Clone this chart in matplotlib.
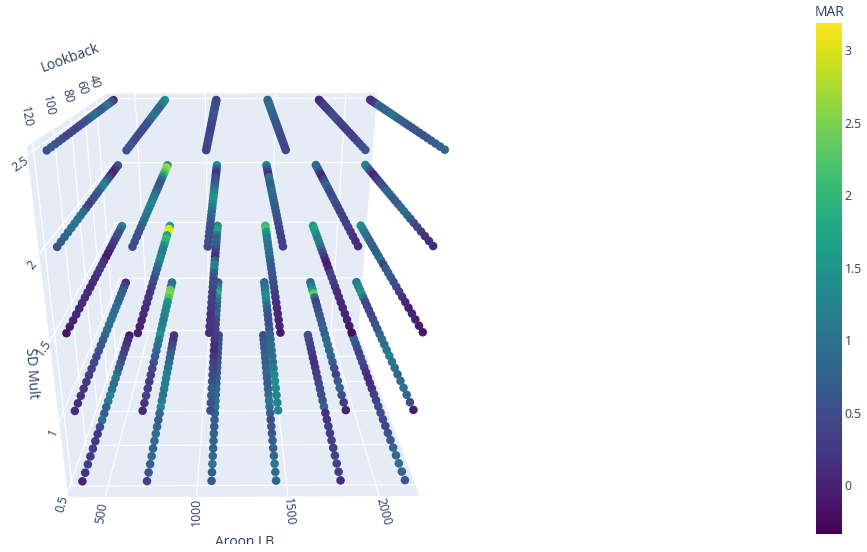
import numpy as np
import matplotlib
matplotlib.use("Agg")
import matplotlib.pyplot as plt
from matplotlib.colors import Normalize
from matplotlib.patches import Polygon, Rectangle

plt.rcParams['font.family'] = ['Open Sans', 'DejaVu Sans']

# axis values
aroon_lb = [360, 720, 1080, 1440, 1800, 2160]
sd_mult = [2.5, 2.0, 1.5, 1.0, 0.5]
lookback = [120, 116, 112, 108, 104, 100, 96, 92, 88, 84, 80, 76, 72,
            68, 64, 60, 56, 52, 48, 44, 40, 36, 32, 28, 24]

# MAR per aroon column, read front (lookback 120) to back (lookback 24)
mar_sd_25 = [
    [.6, .7, .6, .5, .45, .4, .4, .4, .45, .45, .5, .55, .6, .9, 1.0, .85, .7, .65, .7, 1.0, 1.1, .8, .6, .4, .05],
    [.6, .6, .55, .5, .45, .45, .5, .5, .55, .6, .6, .75, .9, 1.05, 1.1, .95, .8, .8, .8, .9, 1.1, 1.2, 1.3, 1.35, 1.45],
    [.35, .4, .4, .4, .4, .4, .35, .35, .4, .4, .45, .5, .55, .5, .55, .6, .6, .55, .5, .5, .45, .45, .4, .35, .3],
    [.4, .4, .4, .45, .45, .45, .5, .5, .5, .55, .6, .65, .7, .75, .8, .8, .85, .9, .9, .95, .9, .85, .8, .8, .75],
    [.55, .5, .45, .4, .35, .3, .3, .3, .3, .3, .35, .4, .5, .55, .5, .4, .35, .3, .3, .35, .35, .1, .1, .05, .05],
    [.85, .75, .7, .65, .6, .55, .55, .6, .6, .65, .7, .75, .8, .9, 1.05, .95, .85, .8, .75, .7, .95, .35, .2, .15, .1],
]
mar_sd_20 = [
    [.55, .7, .8, .9, .95, 1.0, 1.0, .95, .85, .4, .3, .45, .55, .65, .7, 1.1, 1.25, .9, .6, .4, .1, .0, .2, .5, .6],
    [.45, .5, .5, .55, .7, .85, 1.0, 1.1, 1.15, 1.2, 1.2, 1.15, 1.05, .9, .75, .65, .6, .6, .9, 1.4, 1.9, 2.3, 2.6, 2.7, 1.4],
    [.45, .5, .5, .5, .55, .6, .75, .85, 1.0, 1.15, 1.3, 1.5, 1.45, 1.3, 1.1, .85, .7, .6, .55, .5, .1, .3, .6, 1.1, 1.4],
    [.3, .3, .35, .4, .45, .5, .55, .6, .65, .65, .7, .75, .8, .85, 1.0, .8, .7, .85, 1.0, .95, .1, .3, .6, .95, 1.4],
    [.1, .15, .2, .25, .3, .3, .3, .35, .35, .4, .5, .6, .5, .45, .5, .7, .85, .5, .3, .0, .1, .5, .75, .9, .85],
    [.1, .15, .2, .3, .4, .5, .65, .85, .95, .85, .7, .65, .7, .85, .8, .6, .45, .4, .3, .1, .05, .4, .75, 1.2, 1.3],
]
mar_sd_15 = [
    [-.15, -.05, .0, .05, .05, .1, .1, .1, .05, .1, .15, .2, .3, .25, .1, -.1, .0, .1, .2, .3, .45, .5, .6, .9, 1.3],
    [-.05, .0, .05, .1, .1, .15, .2, .25, .35, .45, .55, .7, .85, 1.05, 1.35, 1.25, 1.1, 1.2, 1.4, 1.9, 2.1, 1.7, 3.1, 3.0, 1.6],
    [.15, .2, .2, .2, .25, .3, .3, .35, .4, .4, .55, .7, 1.15, 1.2, .8, .1, .3, .55, .7, .8, .75, 1.1, 1.75, 1.6, 1.3],
    [-.05, .0, .0, .05, .1, .15, .2, .3, .4, .5, .55, .6, .65, .7, .8, .85, .9, .95, 1.0, 1.1, 1.2, 1.4, 1.6, 2.2, 2.0],
    [-.2, -.1, .0, .05, .05, .05, .1, .1, .2, .3, .4, .3, .0, -.1, .05, .3, .5, .8, 1.0, 1.2, 1.1, 1.4, 1.6, 1.7, 1.6],
    [-.1, -.05, .0, .0, -.05, .1, .2, .3, .45, .5, .65, .75, .6, .35, .85, .8, .75, .7, .7, .75, .9, .95, 1.1, 1.3, 1.4],
]
mar_sd_10 = [
    [.1, .1, .15, .2, .25, .3, .35, .4, .45, .5, .6, .7, .85, .9, .95, 1.0, .95, .9, .85, .8, .8, .7, .6, .4, .1],
    [.1, .2, .3, .3, .25, .3, .4, .55, .7, .85, 1.0, 1.1, 1.55, 1.25, 1.15, 1.1, 1.2, 1.3, 1.35, 1.45, 2.2, 2.5, 2.4, 1.1, .9],
    [.5, .6, .7, .65, .5, .4, .35, .3, .2, .1, .15, .25, .3, .3, .35, .5, .85, .7, .65, 1.0, 1.3, 1.9, 1.5, .9, .6],
    [1.25, 1.2, 1.25, 1.3, 1.35, 1.25, 1.1, 1.0, .95, .95, .9, .85, .75, .6, .5, .5, .55, .65, .9, 1.25, 1.45, 1.3, 1.1, .9, .8],
    [.0, .25, .5, .8, .7, .3, .5, .7, .8, .85, .9, .85, .8, .75, .7, .65, .6, .5, .45, .3, .9, 2.3, 1.5, 1.1, .85],
    [-.05, .5, .85, 1.0, .9, .8, .95, 1.05, 1.2, 1.05, .9, .9, .75, .6, .5, .45, .4, .4, .4, .45, 1.0, 1.5, 1.35, 1.2, .95],
]
mar_sd_05 = [
    [.05, .2, .3, .25, .3, .25, .2, .45, 1.0, .7, .7, 1.1, 1.25, 1.0, .9, 1.1, .9, .7, .55, .45, .35, .25, .1, .1, -.1],
    [.3, .55, .75, .9, .8, .85, .9, .75, .7, .85, 1.35, 1.1, 1.05, 1.15, 1.2, 1.2, 1.1, 1.0, .9, .8, .7, .5, .35, .2, .2],
    [.65, .7, 1.05, .8, .8, .8, .75, .7, .7, .8, .95, .85, .85, .8, .75, .7, .65, .7, .6, .55, .6, .65, .6, .5, .45],
    [.8, .85, 1.05, .85, .75, .7, .6, .55, .5, .7, .95, 1.05, .85, .8, .7, .75, .8, .75, .7, .75, .7, .65, .65, .55, .5],
    [.1, .3, .35, .35, .3, .3, .25, .25, .2, .15, .75, .55, .5, .45, .4, .35, .3, .2, .15, .2, .3, .35, .35, .5, .55],
    [.65, .75, .9, .85, .75, .65, .55, .4, .45, .5, .45, .35, .3, .15, .1, .1, .2, .35, .45, .4, .35, .5, .6, .8, .7],
]
mar_rows = [mar_sd_25, mar_sd_20, mar_sd_15, mar_sd_10, mar_sd_05]

# axis ranges, ticks
aroon_range = (300, 2220)
lookback_range = (19.2, 124.8)
sd_range = (0.465, 2.535)
aroon_ticks = [500, 1000, 1500, 2000]
lookback_ticks = [40, 60, 80, 100, 120]
sd_ticks = [0.5, 1.0, 1.5, 2.0, 2.5]
cbar_ticks = [0, 0.5, 1, 1.5, 2, 2.5, 3]
cbar_labels = ['0', '0.5', '1', '1.5', '2', '2.5', '3']
mar_min, mar_max = -0.335, 3.19

PANE = '#E5ECF6'
TXT = '#2a3f5f'

# camera: box corners (normalised aroon, lookback, sd) -> where they sit on the canvas
corners = [
    ((0, 1, 0), (68, 497)), ((1, 1, 0), (419, 495)),
    ((0, 0, 0), (124, 334)), ((1, 0, 0), (358, 334)),
    ((0, 1, 1), (27, 147)), ((1, 1, 1), (466, 147)),
    ((0, 0, 1), (107, 94)), ((1, 0, 1), (376, 93)),
]
rows = []
for (a, b, c), (px, py) in corners:
    rows.append([a, b, c, 1, 0, 0, 0, 0, -px * a, -px * b, -px * c, -px])
    rows.append([0, 0, 0, 0, a, b, c, 1, -py * a, -py * b, -py * c, -py])
cam = np.linalg.svd(np.array(rows, float))[2][-1].reshape(3, 4)


def project(a, l, s):
    a = (np.asarray(a, float) - aroon_range[0]) / (aroon_range[1] - aroon_range[0])
    l = (np.asarray(l, float) - lookback_range[0]) / (lookback_range[1] - lookback_range[0])
    s = (np.asarray(s, float) - sd_range[0]) / (sd_range[1] - sd_range[0])
    p = cam @ np.array([a, l, s, np.ones_like(a)])
    return p[0] / p[2], p[1] / p[2], l


def quad(ax, a, l, s):
    x, y, _ = project(a, l, s)
    ax.add_patch(Polygon(np.c_[x, y], closed=True, fc=PANE, ec=PANE, lw=0.5, zorder=1))


def gridline(ax, a, l, s):
    x, y, _ = project(a, l, s)
    ax.plot(x, y, color='white', lw=0.9, zorder=2, solid_capstyle='butt')


fig = plt.figure(figsize=(8.67, 5.52), dpi=100)
ax = fig.add_axes([0, 0, 1, 1])
ax.set_xlim(0, 867)
ax.set_ylim(552, 0)
ax.axis('off')

a0, a1 = aroon_range
l0, l1 = lookback_range
s0, s1 = sd_range

# panes
quad(ax, [a0, a1, a1, a0], [l0, l0, l0, l0], [s0, s0, s1, s1])
quad(ax, [a0, a1, a1, a0], [l0, l0, l1, l1], [s0, s0, s0, s0])
quad(ax, [a0, a0, a0, a0], [l0, l1, l1, l0], [s0, s0, s1, s1])

# grids
for t in aroon_ticks:
    gridline(ax, [t, t, t], [l1, l0, l0], [s0, s0, s1])
for t in lookback_ticks:
    gridline(ax, [a1, a0, a0], [t, t, t], [s0, s0, s1])
for t in sd_ticks:
    gridline(ax, [a1, a0, a0], [l0, l0, l1], [t, t, t])

# points, far ones first so near ones sit on top
xs, ys, zs, cs = [], [], [], []
for sd, row in zip(sd_mult, mar_rows):
    for lb, vals in zip(aroon_lb, row):
        x, y, d = project(np.full(len(lookback), lb), lookback, np.full(len(lookback), sd))
        xs.extend(x)
        ys.extend(y)
        zs.extend(d)
        cs.extend(vals)
order = np.argsort(zs)
norm = Normalize(mar_min, mar_max)
ax.scatter(np.array(xs)[order], np.array(ys)[order], c=np.array(cs)[order], cmap='viridis',
           norm=norm, s=38, linewidths=0, zorder=3)

# tick labels
for t, px, py, rot in zip(aroon_ticks, [102, 196, 289, 383], [513, 512, 512, 512], [80, 90, -85, -75]):
    ax.text(px, py, str(t), rotation=rot, ha='center', va='center', fontsize=8.8, color=TXT,
            rotation_mode='anchor')
for t, px, py, rot in zip(lookback_ticks, [94, 82, 68, 48, 26], [82, 88, 96, 106, 117], [-72, -72, -75, -78, -80]):
    ax.text(px, py, str(t), rotation=rot, ha='center', va='center', fontsize=8.8, color=TXT,
            rotation_mode='anchor')
for t, px, py, rot in zip(['0.5', '1', '1.5', '2', '2.5'], [62, 53, 44, 32, 20], [504, 432, 348, 265, 164],
                          [75, 65, 55, 50, 35]):
    ax.text(px, py, t, rotation=rot, ha='center', va='center', fontsize=8.8, color=TXT,
            rotation_mode='anchor')

# axis titles
ax.text(70, 58, 'Lookback', rotation=20, ha='center', va='center', fontsize=10, color=TXT, rotation_mode='anchor')
ax.text(31, 373, 'SD Mult', rotation=-86, ha='center', va='center', fontsize=10, color=TXT, rotation_mode='anchor')
ax.text(245, 542, 'Aroon LB', ha='center', va='center', fontsize=10, color=TXT, zorder=4)
# the title is cut off at the bottom of the plot area
ax.add_patch(Rectangle((0, 544), 867, 8, fc='white', ec='none', zorder=5))

# colour bar
cax = fig.add_axes([816 / 867, 1 - 534 / 552, 26 / 867, (534 - 22.5) / 552])
grad = np.linspace(mar_max, mar_min, 256).reshape(-1, 1)
cax.imshow(grad, aspect='auto', cmap='viridis', norm=norm, extent=[0, 1, mar_min, mar_max])
cax.set_xticks([])
cax.yaxis.tick_right()
cax.set_yticks(cbar_ticks)
cax.set_yticklabels(cbar_labels, fontsize=8.8, color=TXT)
cax.tick_params(axis='y', length=0, pad=2)
for sp in cax.spines.values():
    sp.set_visible(False)
ax.text(830, 12, 'MAR', ha='center', va='center', fontsize=10, color=TXT)

plt.savefig('out.png', dpi=100)
